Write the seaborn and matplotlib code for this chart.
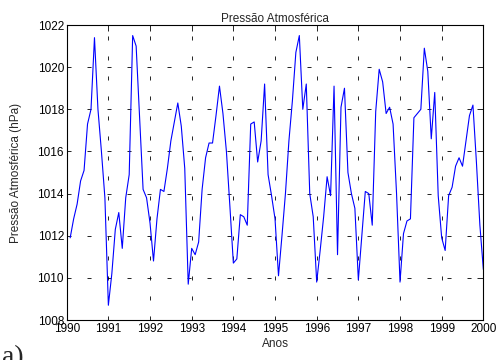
import numpy as np
import pandas as pd
import matplotlib
matplotlib.use('Agg')
import matplotlib.pyplot as plt
import seaborn as sns

sns.set_style("white")
plt.rcParams['font.family'] = ['Liberation Sans', 'DejaVu Sans']
plt.rcParams['lines.scale_dashes'] = False

# monthly means, Jan 1990 .. Dec 1999
meses = np.arange(1, 121)
anos = 1990 + meses / 12.0
pressao = [
    1011.9, 1012.8, 1013.5, 1014.6, 1015.1, 1017.3, 1018.0, 1021.4, 1018.0, 1016.0, 1013.8, 1008.7,
    1010.2, 1012.3, 1013.1, 1011.4, 1013.8, 1014.9, 1021.5, 1021.0, 1017.6, 1014.2, 1013.8, 1012.6,
    1010.8, 1012.8, 1014.2, 1014.1, 1015.2, 1016.5, 1017.4, 1018.3, 1017.2, 1015.2, 1009.7, 1011.4,
    1011.1, 1011.7, 1014.2, 1015.7, 1016.4, 1016.4, 1017.7, 1019.1, 1017.8, 1016.0, 1013.4, 1010.7,
    1010.9, 1013.0, 1012.9, 1012.5, 1017.3, 1017.4, 1015.5, 1016.5, 1019.2, 1014.9, 1013.9, 1012.8,
    1010.1, 1012.0, 1014.0, 1016.5, 1018.4, 1020.7, 1021.5, 1018.0, 1019.2, 1014.0, 1012.9, 1009.8,
    1011.3, 1012.9, 1014.8, 1013.9, 1019.1, 1011.1, 1018.1, 1019.0, 1015.0, 1014.0, 1013.3, 1009.9,
    1012.0, 1014.1, 1014.0, 1012.5, 1017.9, 1019.9, 1019.3, 1017.8, 1018.1, 1017.3, 1014.0, 1009.8,
    1012.1, 1012.7, 1012.8, 1017.6, 1017.8, 1018.0, 1020.9, 1019.8, 1016.6, 1018.8, 1013.9, 1011.9,
    1011.3, 1013.9, 1014.3, 1015.3, 1015.7, 1015.3, 1016.5, 1017.7, 1018.2, 1015.5, 1012.5, 1010.4,
]
xticks = list(range(1990, 2001))
yticks = list(range(1008, 1023, 2))

df = pd.DataFrame({'Anos': anos, 'Pressao': pressao})

fig = plt.figure(figsize=(5, 3.6), dpi=100)
ax = fig.add_axes([0.1334, 0.1111, 0.8333, 0.8194])

sns.lineplot(data=df, x='Anos', y='Pressao', color='#0000ff', linewidth=0.8, ax=ax, zorder=3)

ax.set_xlim(1990, 2000)
ax.set_ylim(1008, 1022)
ax.set_xticks(xticks)
ax.set_yticks(yticks)
ax.tick_params(direction='in', top=True, right=True, length=4, width=0.6,
               labelsize=8.5, pad=2, colors='black')
ax.grid(True, color='black', linewidth=0.6, linestyle=(0, (2.9, 11.5)), zorder=1)
for s in ax.spines.values():
    s.set_linewidth(0.8)
    s.set_color('black')

ax.set_title('Pressão Atmosférica', fontsize=8.5, pad=2)
ax.set_xlabel('Anos', fontsize=8.5, labelpad=2)
ax.set_ylabel('Pressão Atmosférica (hPa)', fontsize=8.5, labelpad=11)

fig.text(0.004, -0.012, 'a)', fontsize=20, family='Liberation Serif', va='baseline')

fig.savefig('out.png', dpi=100)
